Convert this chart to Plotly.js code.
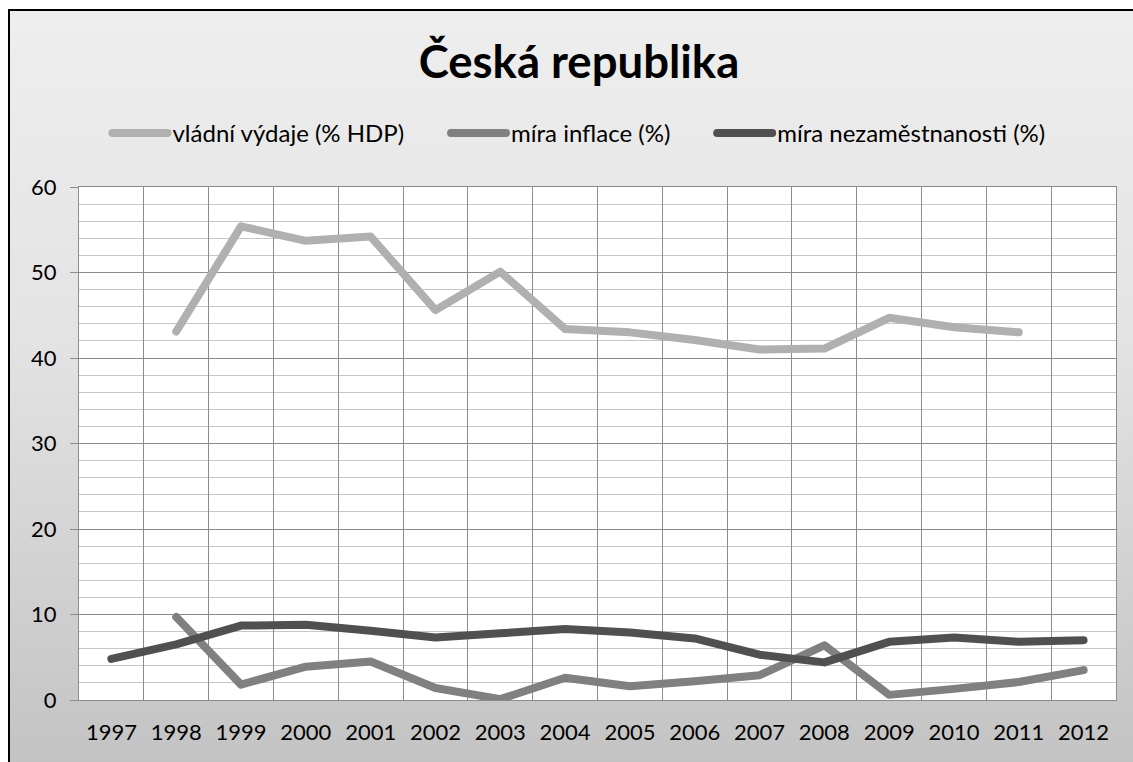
<!DOCTYPE html>
<html>
<head>
<meta charset="utf-8">
<script src="https://cdn.plot.ly/plotly-3.0.1.min.js"></script>
<style>
  html, body { margin: 0; padding: 0; background: #ffffff; width: 1133px; height: 762px; overflow: hidden; }
  #frame { position: absolute; left: 8px; top: 9px; width: 1125px; height: 753px;
           border-left: 2px solid #000; border-top: 2px solid #000; box-sizing: border-box;
           background: linear-gradient(to bottom, #eeeeee 0px, #e3e3e3 330px, #c3c3c3 753px); }
  #chart { position: absolute; left: 0; top: 0; width: 1133px; height: 762px; }
  .js-line { stroke-linecap: round; stroke-linejoin: round; }
</style>
</head>
<body>
<div id="frame"></div>
<div id="chart"></div>
<script>
const years = ['1997','1998','1999','2000','2001','2002','2003','2004','2005','2006','2007','2008','2009','2010','2011','2012'];
const vladniVydaje = [null, 43.1, 55.4, 53.7, 54.2, 45.6, 50.1, 43.4, 43.0, 42.1, 41.0, 41.1, 44.7, 43.6, 43.0, null];
const miraInflace = [null, 9.7, 1.8, 3.9, 4.5, 1.4, 0.1, 2.6, 1.6, 2.2, 2.9, 6.4, 0.6, 1.3, 2.1, 3.5];
const miraNezamestnanosti = [4.8, 6.5, 8.7, 8.8, 8.1, 7.3, 7.8, 8.3, 7.9, 7.2, 5.3, 4.4, 6.8, 7.3, 6.8, 7.0];
const seriesNames = ['vládní výdaje (% HDP)', 'míra inflace (%)', 'míra nezaměstnanosti (%)'];
const seriesColors = ['#b0b0b0', '#808080', '#505050'];
const yTicks = [0, 10, 20, 30, 40, 50, 60];

const font = 'Lato, "Open Sans", sans-serif';
const legendPad = '\u00a0\u00a0\u00a0\u00a0\u00a0\u00a0';
const seriesData = [vladniVydaje, miraInflace, miraNezamestnanosti];
const traces = seriesData.map((vals, i) => ({
  type: 'scatter', mode: 'lines', x: years, y: vals,
  name: seriesNames[i] + (i < seriesNames.length - 1 ? legendPad : ''),
  line: { color: seriesColors[i], width: 8 }, connectgaps: false, hoverinfo: 'x+y'
}));

const layout = {
  width: 1133, height: 762,
  paper_bgcolor: 'rgba(0,0,0,0)', plot_bgcolor: '#ffffff',
  margin: { l: 79, r: 17, t: 187, b: 62 },
  font: { family: font, size: 22, color: '#000' },
  title: { text: '<b>Česká republika</b>', font: { family: font, size: 45.5, color: '#000' },
           xref: 'container', x: 0.511, xanchor: 'center', yref: 'container', y: 0.918, yanchor: 'middle' },
  showlegend: true,
  legend: { orientation: 'h', xref: 'container', yref: 'container', x: 0.511, xanchor: 'center',
            y: 0.825, yanchor: 'middle', bgcolor: 'rgba(0,0,0,0)', font: { family: font, size: 24 },
            itemwidth: 55, traceorder: 'normal' },
  xaxis: { type: 'category', range: [-0.5, 15.5], tickson: 'boundaries', showgrid: true, gridcolor: '#8c8c8c', gridwidth: 1,
           showline: true, linecolor: '#8c8c8c', linewidth: 1, mirror: true, ticks: '', ticklen: 0,
           ticklabelstandoff: 13,
           tickfont: { family: font, size: 22 }, fixedrange: true, zeroline: false },
  yaxis: { range: [0, 60], tickvals: yTicks, showgrid: true, gridcolor: '#8c8c8c', gridwidth: 1,
           showline: true, linecolor: '#8c8c8c', linewidth: 1, ticks: 'outside', ticklen: 8, tickcolor: '#8c8c8c',
           ticklabelstandoff: 9, mirror: true,
           minor: { dtick: 2, showgrid: true, gridcolor: '#c6c6c6', gridwidth: 1, ticks: '' },
           zeroline: false, tickfont: { family: font, size: 22 }, fixedrange: true }
};

Plotly.newPlot('chart', traces, layout, { staticPlot: true, displayModeBar: false });
</script>
</body>
</html>
